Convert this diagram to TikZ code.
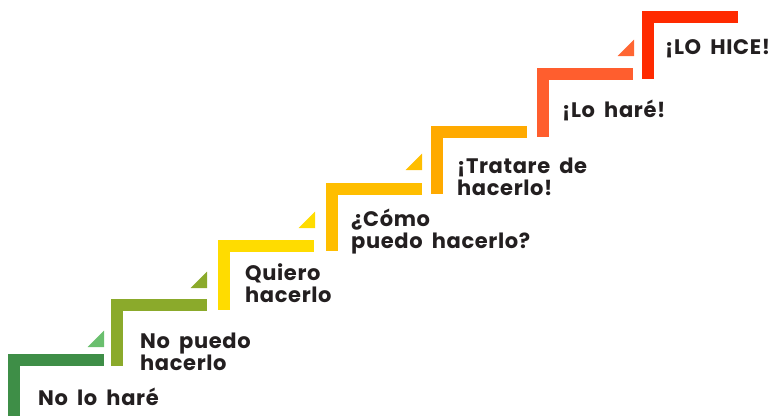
\documentclass[tikz,border=0pt]{standalone}
\usepackage{fontspec}
\setmainfont{Poppins}[LetterSpace=3,WordSpace=1.8]
\usepackage{tikz}
\definecolor{ink}{HTML}{231F20}
\definecolor{green1}{HTML}{3E8E47}
\definecolor{green1l}{HTML}{6ABF6E}
\definecolor{olive2}{HTML}{8BAA2B}
\definecolor{yellow3}{HTML}{FFDC00}
\definecolor{amber4}{HTML}{FFBE00}
\definecolor{orange5}{HTML}{FFAA00}
\definecolor{coral6}{HTML}{FF5E2E}
\definecolor{coral6l}{HTML}{FF6633}
\definecolor{red7}{HTML}{FF2A00}
\tikzstyle{steptext}=[anchor=base west,align=left,inner sep=0pt,text=ink,font=\bfseries\fontsize{21}{22}\selectfont]
% name, left x, top y, foot of post, colour
\newcommand{\stair}[5]{%
  \coordinate (#1) at (#2,#3);
  \fill[#5] (#1) rectangle ++(96,11.5);
  \fill[#5] (#1) rectangle (#2+11.5,#4);}
% bottom right corner, colour
\newcommand{\notch}[3]{\fill[#3] (#1,#2) -- ++(-16.5,0) -- ++(16.5,-16.5) -- cycle;}

\begin{document}
\begin{tikzpicture}[x=1pt,y=-1pt]
    \useasboundingbox (0,0) rectangle (777,416);
    \stair{c1}{8}{354}{416}{green1}
    \stair{c2}{111}{299}{366}{olive2}
    \stair{c3}{218}{240}{310}{yellow3}
    \stair{c4}{326}{183}{251}{amber4}
    \stair{c5}{431}{126}{194}{orange5}
    \stair{c6}{537}{68}{137}{coral6}
    \stair{c7}{642}{11}{79}{red7}
    \notch{104}{347}{green1l}
    \notch{207}{288}{olive2}
    \notch{315}{228}{yellow3}
    \notch{422}{170}{amber4}
    \notch{634}{56}{coral6l}
    % two-line labels hang from their last line
    \node[steptext] (n1) at ([shift={(30,51)}]c1) {No lo haré};
    \node[steptext] (n2) at ([shift={(29,71)}]c2) {No puedo\\hacerlo};
    \node[steptext] (n3) at ([shift={(27,62)}]c3) {Quiero\\hacerlo};
    \node[steptext] (n4) at ([shift={(25,65)}]c4) {¿Cómo\\puedo hacerlo?};
    \node[steptext] (n5) at ([shift={(26,69)}]c5) {¡Tratare de\\hacerlo!};
    \node[steptext] (n6) at ([shift={(25,49)}]c6) {¡Lo haré!};
    \node[steptext] (n7) at ([shift={(23,43)}]c7) {¡LO HICE!};
\end{tikzpicture}
\end{document}
